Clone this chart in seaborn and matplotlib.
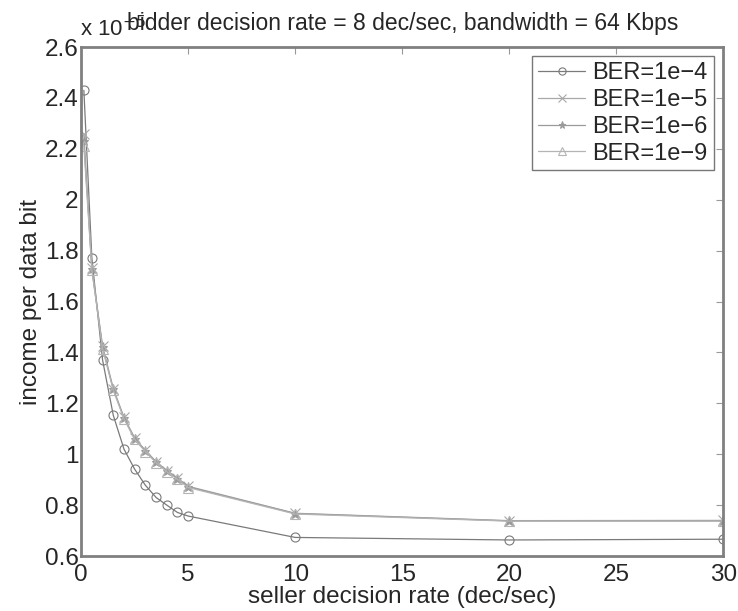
import numpy as np
import pandas as pd
import seaborn as sns
import matplotlib.pyplot as plt

# seller decision rate (dec/sec)
rate = [0.125, 0.5, 1, 1.5, 2, 2.5, 3, 3.5, 4, 4.5, 5, 10, 20, 30]

# income per data bit (x 1e-5)
ber_1e4 = [2.43, 1.77, 1.37, 1.153, 1.02, 0.941, 0.878, 0.830, 0.800, 0.771, 0.757, 0.673, 0.663, 0.666]
ber_1e5 = [2.26, 1.73, 1.425, 1.258, 1.145, 1.064, 1.015, 0.971, 0.936, 0.906, 0.874, 0.768, 0.739, 0.740]
ber_1e6 = [2.23, 1.727, 1.42, 1.255, 1.142, 1.061, 1.013, 0.970, 0.934, 0.904, 0.872, 0.767, 0.738, 0.738]
ber_1e9 = [2.21, 1.723, 1.415, 1.252, 1.139, 1.058, 1.010, 0.967, 0.931, 0.901, 0.869, 0.765, 0.737, 0.737]

labels = ['BER=1e\u22124', 'BER=1e\u22125', 'BER=1e\u22126', 'BER=1e\u22129']
series = [ber_1e4, ber_1e5, ber_1e6, ber_1e9]
markers = ['o', 'x', '*', '^']
colors = ['#7a7a7a', '#a8a8a8', '#9a9a9a', '#b4b4b4']
facecolors = ['none', '#a8a8a8', '#9a9a9a', 'none']

df = pd.concat([pd.DataFrame({'rate': rate, 'income': s, 'BER': lab})
                for s, lab in zip(series, labels)], ignore_index=True)

sns.set_style('white')
plt.rcParams['font.family'] = ['Liberation Sans', 'DejaVu Sans']

fig = plt.figure(figsize=(7.38, 6.11), dpi=100)
ax = fig.add_axes([0.110, 0.090, 0.870, 0.833])

for lab, m, c, fc in zip(labels, markers, colors, facecolors):
    sub = df[df['BER'] == lab]
    sns.lineplot(data=sub, x='rate', y='income', ax=ax, label=lab, color=c,
                 marker=m, markersize=6.5, markerfacecolor=fc, markeredgecolor=c,
                 linewidth=0.9, markeredgewidth=0.8)

ax.set_xlim(0, 30)
ax.set_ylim(0.6, 2.6)
ax.set_xticks(np.arange(0, 31, 5))
ax.set_yticks(np.arange(0.6, 2.61, 0.2))
ax.set_yticklabels(['0.6', '0.8', '1', '1.2', '1.4', '1.6', '1.8', '2', '2.2', '2.4', '2.6'])
ax.tick_params(direction='in', top=True, right=True, length=5, width=0.8,
               color='#999999', labelsize=17.5)
ax.tick_params(axis='y', pad=2)
ax.tick_params(axis='x', pad=6)
for sp in ax.spines.values():
    sp.set_color('#808080')
    sp.set_linewidth(2.0)

ax.set_xlabel('seller decision rate (dec/sec)', fontsize=17.5, labelpad=0)
ax.set_ylabel('income per data bit', fontsize=17.5, labelpad=2)
ax.set_title('bidder decision rate = 8 dec/sec, bandwidth = 64 Kbps', fontsize=16.5, pad=12)
ax.text(-0.002, 1.012, 'x 10$^{-5}$', transform=ax.transAxes, fontsize=16,
        ha='left', va='bottom')

leg = ax.legend(loc='upper right', fontsize=17, frameon=True, fancybox=False,
                handlelength=2.0, handletextpad=0.3, borderpad=0.25, labelspacing=0.2,
                borderaxespad=0.4, markerscale=0.8)
leg.get_frame().set_edgecolor('#555555')
leg.get_frame().set_linewidth(1.0)

fig.savefig('out.png', dpi=100)
